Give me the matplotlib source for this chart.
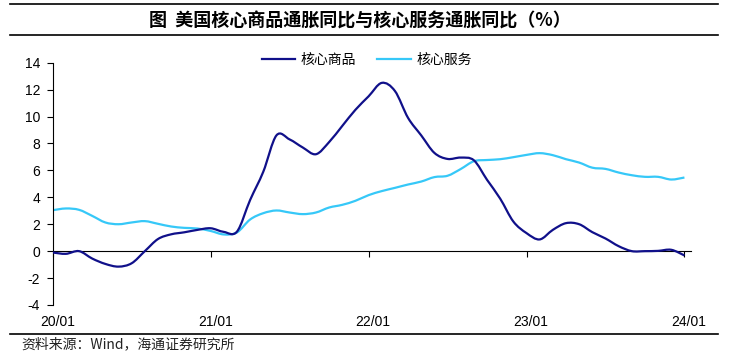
import matplotlib
matplotlib.use("Agg")
import matplotlib.pyplot as plt
from matplotlib.lines import Line2D
from matplotlib.path import Path
from matplotlib.patches import PathPatch
import numpy as np

plt.rcParams['font.family'] = ['Liberation Sans', 'Noto Sans CJK SC', 'DejaVu Sans']

# ---- data (monthly, 2020/01 .. 2024/01) ----
core_goods = [-0.1, -0.2, 0.0, -0.55, -0.95, -1.15, -0.9, 0.0, 0.9, 1.25, 1.4, 1.58,
              1.7, 1.43, 1.45, 3.8, 5.9, 8.6, 8.3, 7.7, 7.2, 8.1, 9.3, 10.5,
              11.5, 12.5, 11.9, 9.9, 8.6, 7.3, 6.85, 6.95, 6.75, 5.3, 3.9, 2.2,
              1.34, 0.87, 1.58, 2.08, 2.0, 1.41, 0.94, 0.37, 0.0, 0.0, 0.02, 0.1, -0.32]
core_services = [3.04, 3.17, 3.07, 2.62, 2.13, 2.0, 2.13, 2.23, 2.03, 1.83, 1.73, 1.68,
                 1.5, 1.24, 1.39, 2.35, 2.82, 3.02, 2.87, 2.75, 2.87, 3.24, 3.44, 3.74,
                 4.16, 4.46, 4.7, 4.95, 5.17, 5.5, 5.6, 6.1, 6.68, 6.77, 6.83, 6.98,
                 7.15, 7.28, 7.13, 6.83, 6.58, 6.2, 6.11, 5.84, 5.64, 5.52, 5.52, 5.32, 5.47]
series_names = ['核心商品', '核心服务']
x_labels = ['20/01', '21/01', '22/01', '23/01', '24/01']
title = '图  美国核心商品通胀同比与核心服务通胀同比（%）'
source = '资料来源：Wind，海通证券研究所'

navy = '#10108a'
sky = '#36c8f8'


def smooth_path(xs, ys):
    """Smoothed line through the data points (cubic Bezier segments, like a spreadsheet 'smoothed line')."""
    pts = np.column_stack([xs, ys]).astype(float)
    n = len(pts)
    verts = [pts[0]]
    codes = [Path.MOVETO]
    for i in range(n - 1):
        p0 = pts[i - 1] if i > 0 else pts[i]
        p1 = pts[i]
        p2 = pts[i + 1]
        p3 = pts[i + 2] if i + 2 < n else pts[i + 1]
        c1 = p1 + (p2 - p0) / 6.0
        c2 = p2 - (p3 - p1) / 6.0
        verts += [c1, c2, p2]
        codes += [Path.CURVE4] * 3
    return Path(verts, codes)


fig = plt.figure(figsize=(7.3, 3.57), dpi=100)
ax = fig.add_axes([0.0722, 0.1457, 0.8744, 0.6787])

months = np.arange(len(core_goods))
for vals, col, z in [(core_services, sky, 2), (core_goods, navy, 3)]:
    patch = PathPatch(smooth_path(months, vals), facecolor='none', edgecolor=col,
                      lw=1.6, joinstyle='round', capstyle='butt', zorder=z,
                      transform=ax.transData)
    ax.add_patch(patch)

ax.set_xlim(0, 48.5)
ax.set_ylim(-4, 14)
ax.set_yticks(np.arange(-4, 15, 2))
ax.set_yticklabels([str(v) for v in range(-4, 15, 2)], fontsize=10, family='Liberation Sans')

for s in ['top', 'right']:
    ax.spines[s].set_visible(False)
ax.spines['bottom'].set_position(('data', 0))
ax.spines['left'].set_linewidth(0.8)
ax.spines['bottom'].set_linewidth(0.8)
ax.tick_params(axis='y', direction='out', length=4, width=0.8, pad=5)

tick_pos = [12 * i for i in range(len(x_labels))]
ax.set_xticks(tick_pos)
ax.set_xticklabels([])
ax.set_xticks([p + 0.35 for p in tick_pos], minor=True)
ax.set_xticklabels(x_labels, minor=True, fontsize=10, family='Liberation Sans')
ax.tick_params(axis='x', which='major', direction='out', length=4, width=0.8)
ax.tick_params(axis='x', which='minor', length=0, pad=46)

handles = [Line2D([], [], color=navy, lw=1.6), Line2D([], [], color=sky, lw=1.6)]
ax.legend(handles, series_names, loc='center', bbox_to_anchor=(0.492, 1.012), ncol=2,
          frameon=False, handlelength=2.4, handletextpad=0.4, columnspacing=1.5,
          prop={'family': ['Noto Sans CJK SC', 'DejaVu Sans'], 'size': 10})

# title and rules
fig.text(0.4925, 0.941, title, ha='center', va='center', fontsize=13, fontweight='bold',
         family=['Noto Sans CJK SC', 'DejaVu Sans'])
for yy in [0.990, 0.903, 0.0644]:
    fig.add_artist(Line2D([0.0137, 0.9836], [yy, yy], transform=fig.transFigure,
                          color='black', lw=1.2))
fig.text(0.0297, 0.0364, source, ha='left', va='center', fontsize=10, color='#222222',
         family=['Noto Sans CJK SC', 'DejaVu Sans'])

fig.savefig('out.png', dpi=100)
